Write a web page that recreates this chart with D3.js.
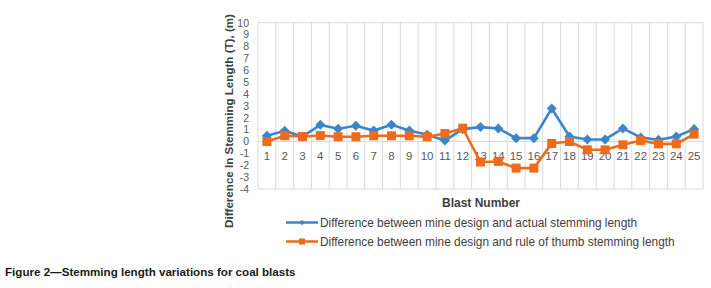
<!DOCTYPE html>
<html lang="en">
<head>
  <meta charset="UTF-8">
  <title>Stemming length variations</title>
  <script src="https://d3js.org/d3.v7.min.js"></script>
  <style>
    * { margin: 0; padding: 0; box-sizing: border-box; }
    body { background: #fff; font-family: "Liberation Sans", Arial, sans-serif; }
  </style>
</head>
<body>
  <div id="chart"></div>

  <script>
    const blasts = d3.range(1, 26);
    const actualDiff = [0.48, 0.9, 0.42, 1.4, 1.07, 1.32, 0.92, 1.4, 0.92, 0.56, 0.08, 1.04, 1.21,
                        1.1, 0.28, 0.28, 2.77, 0.42, 0.17, 0.17, 1.1, 0.34, 0.14, 0.42, 1.04];
    const thumbDiff = [0.0, 0.48, 0.42, 0.5, 0.4, 0.4, 0.48, 0.48, 0.48, 0.4, 0.67, 1.12, -1.73,
                       -1.68, -2.24, -2.24, -0.17, 0.0, -0.7, -0.7, -0.28, 0.08, -0.2, -0.2, 0.62];
    const yTicks = d3.range(-4, 11);
    const seriesNames = ["Difference between mine design and actual stemming length",
                         "Difference between mine design and rule of thumb stemming length"];

    const W = 711, H = 288;
    const blue = "#3d85c9", orange = "#ee6a1c";

    const svg = d3.select("#chart").append("svg")
      .attr("width", W).attr("height", H);

    const x = d3.scaleBand().domain(blasts).range([258, 703]);
    const y = d3.scaleLinear().domain([-4, 10]).range([189, 22.7]);
    const cx = d => x(d) + x.bandwidth() / 2;

    // vertical grid lines at category edges
    const edges = blasts.map(d => x(d)).concat([x.range()[1]]);
    svg.append("g").selectAll("line").data(edges).enter().append("line")
      .attr("x1", d => d).attr("x2", d => d)
      .attr("y1", y(10)).attr("y2", y(-4))
      .attr("stroke", "#d9d9d9").attr("stroke-width", 1);

    // horizontal border lines + zero line
    svg.append("g").selectAll("line").data([10, 0, -4]).enter().append("line")
      .attr("x1", 258).attr("x2", 703)
      .attr("y1", d => y(d)).attr("y2", d => y(d))
      .attr("stroke", "#d9d9d9").attr("stroke-width", 1);

    // y tick labels
    svg.append("g").selectAll("text").data(yTicks).enter().append("text")
      .attr("x", 249).attr("y", d => y(d) + 3.8)
      .attr("text-anchor", "end")
      .style("font-size", "10.5px").style("fill", "#595959")
      .text(d => d);

    // x tick labels under the zero line
    svg.append("g").selectAll("text").data(blasts).enter().append("text")
      .attr("x", d => cx(d)).attr("y", y(0) + 19)
      .attr("text-anchor", "middle")
      .style("font-size", "11.5px").style("fill", "#595959")
      .text(d => d);

    const line = vals => d3.line().x((v, i) => cx(blasts[i])).y(v => y(v))(vals);

    svg.append("path").attr("d", line(actualDiff))
      .attr("fill", "none").attr("stroke", blue).attr("stroke-width", 2.6);
    svg.append("path").attr("d", line(thumbDiff))
      .attr("fill", "none").attr("stroke", orange).attr("stroke-width", 2.6);

    const diamond = d3.symbol().type(d3.symbolDiamond2).size(64);
    svg.append("g").selectAll("path").data(actualDiff).enter().append("path")
      .attr("d", diamond)
      .attr("transform", (v, i) => `translate(${cx(blasts[i])},${y(v)})`)
      .attr("fill", blue);

    svg.append("g").selectAll("rect").data(thumbDiff).enter().append("rect")
      .attr("x", (v, i) => cx(blasts[i]) - 4.5).attr("y", v => y(v) - 4.5)
      .attr("width", 9).attr("height", 9)
      .attr("fill", orange);

    // axis titles
    svg.append("text")
      .attr("x", 481).attr("y", 207)
      .attr("text-anchor", "middle")
      .style("font-size", "12px").style("font-weight", "bold").style("fill", "#404040")
      .text("Blast Number");

    svg.append("text")
      .attr("transform", "translate(233,121) rotate(-90)")
      .attr("text-anchor", "middle")
      .style("font-size", "11.6px").style("font-weight", "bold").style("fill", "#404040")
      .text("Difference In Stemming Length (T), (m)");

    // legend
    const legend = svg.append("g");
    [blue, orange].forEach((c, i) => {
      const ly = 222.5 + i * 19;
      legend.append("line").attr("x1", 286).attr("x2", 318)
        .attr("y1", ly).attr("y2", ly)
        .attr("stroke", c).attr("stroke-width", 2.5);
      if (i === 0) {
        legend.append("path").attr("d", d3.symbol().type(d3.symbolDiamond2).size(20))
          .attr("transform", `translate(302,${ly})`).attr("fill", c);
      } else {
        legend.append("rect").attr("x", 299).attr("y", ly - 3).attr("width", 6).attr("height", 6)
          .attr("fill", c);
      }
      legend.append("text").attr("x", 320).attr("y", ly + 4)
        .style("font-size", "11.85px").style("fill", "#404040")
        .text(seriesNames[i]);
    });

    // figure caption
    svg.append("text")
      .attr("x", 5).attr("y", 276)
      .style("font-size", "11.6px").style("font-weight", "bold").style("fill", "#1a1a1a")
      .text("Figure 2\u2014Stemming length variations for coal blasts");
  </script>
</body>
</html>
